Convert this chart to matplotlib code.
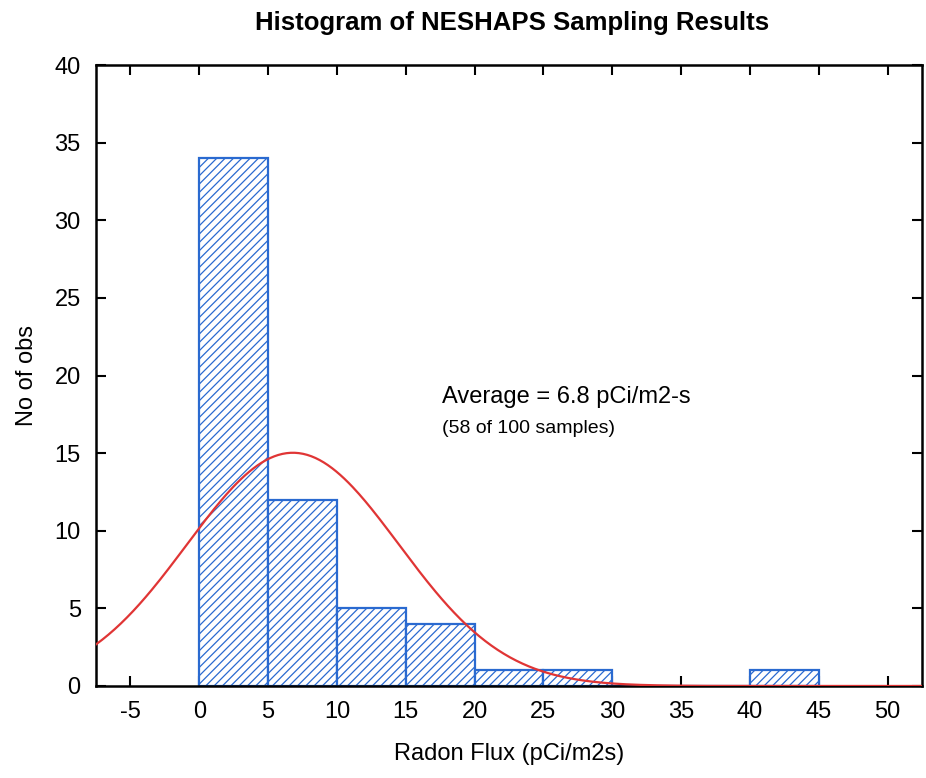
import numpy as np
import matplotlib
matplotlib.use('Agg')
import matplotlib.pyplot as plt

# --Data--
binEdges = [0, 5, 10, 15, 20, 25, 30, 35, 40, 45]
counts = [34, 12, 5, 4, 1, 1, 0, 0, 1]
sampleMean = 6.8
sampleSd = 7.7
nObs = 58
xTicks = [-5, 0, 5, 10, 15, 20, 25, 30, 35, 40, 45, 50]
yTicks = [0, 5, 10, 15, 20, 25, 30, 35, 40]

plt.rcParams['font.family'] = ['Liberation Sans', 'DejaVu Sans']
plt.rcParams['axes.unicode_minus'] = False
plt.rcParams['hatch.linewidth'] = 0.9
plt.rcParams['hatch.color'] = '#5592dc'

fig = plt.figure(figsize=(9.26, 7.78), dpi=100)
ax = fig.add_axes([0.1037, 0.1183, 0.892, 0.798])

blue = '#2a6ad0'
widths = np.diff(binEdges)
ax.bar(binEdges[:-1], counts, width=widths, align='edge', facecolor='white',
       edgecolor=blue, linewidth=1.6, hatch='////', zorder=2)

# fitted normal curve scaled to counts
xs = np.linspace(-7.5, 52.5, 400)
binWidth = 5
curve = nObs * binWidth / (sampleSd * np.sqrt(2 * np.pi)) * np.exp(-0.5 * ((xs - sampleMean) / sampleSd) ** 2)
ax.plot(xs, curve, color='#e03535', linewidth=1.6, zorder=3)

ax.set_xlim(-7.5, 52.5)
ax.set_ylim(0, 40)
ax.set_xticks(xTicks)
ax.set_yticks(yTicks)
ax.tick_params(direction='in', length=7, width=1.5, labelsize=17, top=True, right=True, pad=11)
for s in ax.spines.values():
    s.set_linewidth(1.8)

ax.set_xlabel('Radon Flux (pCi/m2s)', fontsize=17, labelpad=14)
ax.set_ylabel('No of obs', fontsize=17, labelpad=12)
fig.text(0.553, 0.970, 'Histogram of NESHAPS Sampling Results', fontsize=18.5,
         fontweight='bold', ha='center', va='center')

ax.text(17.6, 18.6, 'Average = 6.8 pCi/m2-s', fontsize=17, va='center')
ax.text(17.6, 16.6, '(58 of 100 samples)', fontsize=14, va='center')

fig.savefig('out.png', dpi=100)
